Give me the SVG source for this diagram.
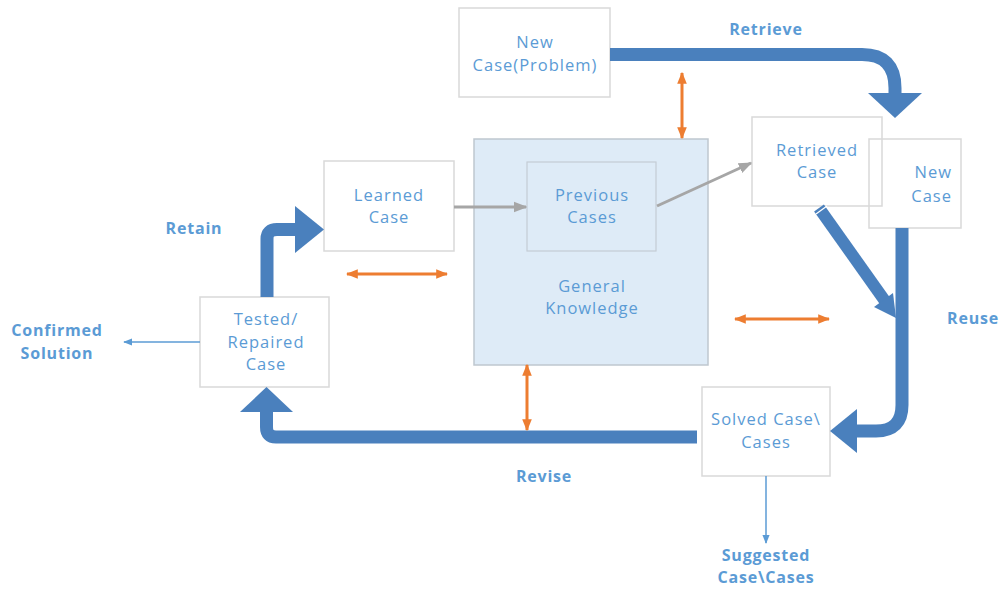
<svg xmlns="http://www.w3.org/2000/svg" width="1002" height="590" viewBox="0 0 1002 590">
<style>
.box{fill:#ffffff;stroke:#d9d9d9;stroke-width:1.5}
.obox{fill:none;stroke:#d9d9d9;stroke-width:1.5}
.t{font-family:"Open Sans","Liberation Sans",sans-serif;font-size:16.5px;fill:#5b9bd5;text-anchor:middle;letter-spacing:1px}
.b{font-family:"Open Sans","Liberation Sans",sans-serif;font-size:16px;font-weight:bold;fill:#5b9bd5;text-anchor:middle;letter-spacing:0.8px}
.thick{fill:none;stroke:#4a80bd;stroke-width:13}
.head{fill:#4a80bd}
.gray{stroke:#a6a6a6;stroke-width:3;fill:none}
.orange{stroke:#ed7d31;stroke-width:3;fill:none}
.thin{stroke:#5b9bd5;stroke-width:1.5;fill:none}
</style>
<defs>
<marker id="ga" viewBox="0 0 10 10" refX="9" refY="5" markerWidth="4.5" markerHeight="4.5" orient="auto"><path d="M0,1 L10,5 L0,9 z" fill="#a6a6a6"/></marker>
<marker id="oa" viewBox="0 0 10 10" refX="9" refY="5" markerWidth="4" markerHeight="4" orient="auto-start-reverse"><path d="M0,1 L10,5 L0,9 z" fill="#ed7d31"/></marker>
<marker id="ba" viewBox="0 0 10 10" refX="9" refY="5" markerWidth="6" markerHeight="6" orient="auto"><path d="M0,1 L10,5 L0,9 z" fill="#5b9bd5"/></marker>
</defs>

<g id="knowledge">
<rect x="474" y="139" width="234" height="226" fill="#deebf7" stroke="#bfc7cf" stroke-width="1.5"/>
<text class="t" x="592" y="292">General</text>
<text class="t" x="592" y="314">Knowledge</text>
</g>
<g id="previous-cases">
<rect x="527" y="162" width="129" height="89" fill="none" stroke="#c4ccd4" stroke-width="1.2"/>
<text class="t" x="592" y="201">Previous</text>
<text class="t" x="592" y="223">Cases</text>
</g>
<g id="new-case-problem">
<rect class="box" x="459" y="8" width="151" height="89"/>
<text class="t" x="535" y="48">New</text>
<text class="t" x="535" y="71">Case(Problem)</text>
</g>
<g id="new-case">
<rect class="obox" x="869" y="139" width="92" height="89"/>
<text class="t" x="952" y="178" style="text-anchor:end">New</text>
<text class="t" x="952" y="202" style="text-anchor:end">Case</text>
</g>
<g id="retrieved-case">
<rect class="obox" x="752" y="117" width="130" height="89"/>
<text class="t" x="817" y="156">Retrieved</text>
<text class="t" x="817" y="178">Case</text>
</g>
<g id="learned-case">
<rect class="box" x="324" y="161" width="130" height="90"/>
<text class="t" x="389" y="201">Learned</text>
<text class="t" x="389" y="223">Case</text>
</g>
<g id="tested-case">
<rect class="box" x="200" y="297" width="129" height="90"/>
<text class="t" x="266" y="325">Tested/</text>
<text class="t" x="266" y="348">Repaired</text>
<text class="t" x="266" y="370">Case</text>
</g>
<g id="solved-case">
<rect class="box" x="702" y="387" width="128" height="89"/>
<text class="t" x="766" y="425">Solved Case\</text>
<text class="t" x="766" y="448">Cases</text>
</g>

<g id="connectors">
<!-- Retrieve -->
<path class="thick" d="M610,54.5 H862 Q895,54.5 895,88 V95"/>
<polygon class="head" points="868,93 922,93 895,118"/>
<!-- Reuse diagonal -->
<line x1="819" y1="208" x2="885" y2="301" stroke="#4a80bd" stroke-width="12"/>
<line x1="816" y1="214" x2="827" y2="206" stroke="#ffffff" stroke-width="1.2"/>
<polygon class="head" points="896,318 893,293 874,307"/>
<!-- Reuse vertical -->
<path class="thick" d="M902,228 V405 Q902,431 876,431 H855"/>
<polygon class="head" points="857,409 857,453 830,431"/>
<!-- Revise -->
<path class="thick" d="M697,437 H276 Q266.5,437 266.5,427 V410"/>
<polygon class="head" points="240,412 293,412 266.5,387"/>
<!-- Retain -->
<path class="thick" d="M267,297 V239 Q267,229.5 277,229.5 H297"/>
<polygon class="head" points="295,206 324,229.5 295,253"/>
<!-- gray -->
<line class="gray" x1="454" y1="207" x2="526" y2="207" marker-end="url(#ga)"/>
<line class="gray" x1="657" y1="206" x2="751" y2="163" marker-end="url(#ga)"/>
<!-- orange -->
<line class="orange" x1="682" y1="73" x2="682" y2="138" marker-start="url(#oa)" marker-end="url(#oa)"/>
<line class="orange" x1="347" y1="274" x2="447" y2="274" marker-start="url(#oa)" marker-end="url(#oa)"/>
<line class="orange" x1="735" y1="319" x2="829" y2="319" marker-start="url(#oa)" marker-end="url(#oa)"/>
<line class="orange" x1="527" y1="365" x2="527" y2="430" marker-start="url(#oa)" marker-end="url(#oa)"/>
<!-- thin -->
<line class="thin" x1="200" y1="342" x2="124" y2="342" marker-end="url(#ba)"/>
<line class="thin" x1="766" y1="476" x2="766" y2="543" marker-end="url(#ba)"/>
</g>

<g id="labels">
<text class="b" x="766" y="35">Retrieve</text>
<text class="b" x="194" y="234">Retain</text>
<text class="b" x="57" y="336">Confirmed</text>
<text class="b" x="57" y="359">Solution</text>
<text class="b" x="973" y="324">Reuse</text>
<text class="b" x="544" y="482">Revise</text>
<text class="b" x="766" y="561">Suggested</text>
<text class="b" x="766" y="583">Case\Cases</text>
</g>
</svg>
